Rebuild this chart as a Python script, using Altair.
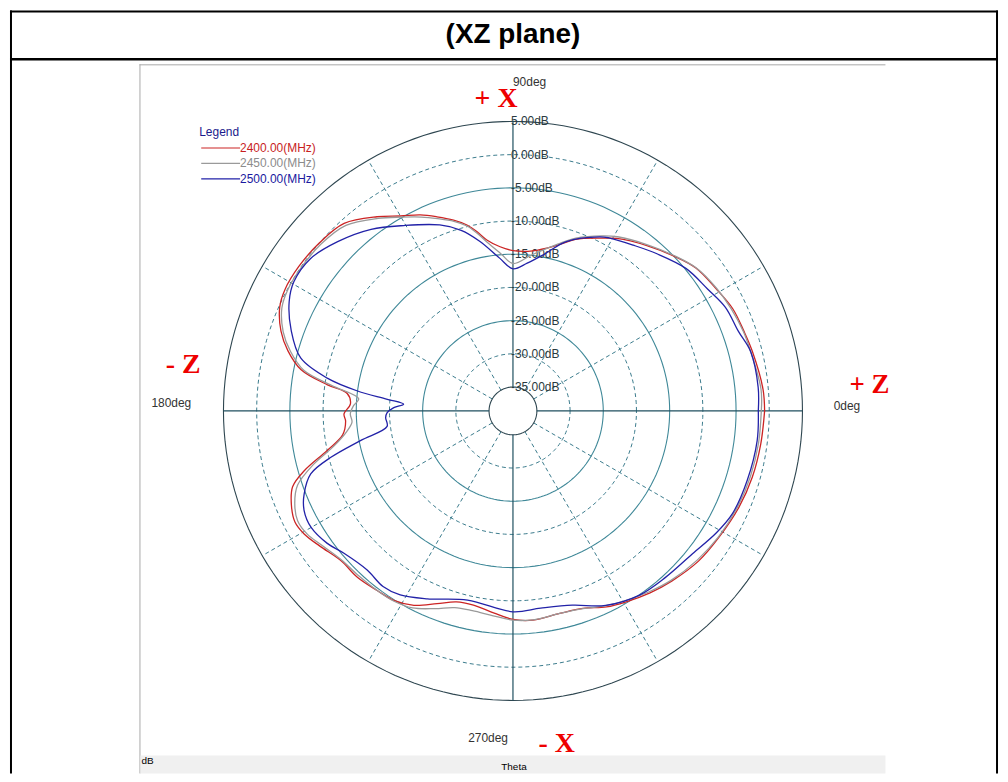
import numpy as np
import pandas as pd
import altair as alt

# ---------------- data ----------------
freqs = ["2400.00(MHz)", "2450.00(MHz)", "2500.00(MHz)"]
freq_colors = ["#cc2424", "#9a9a9a", "#2222a8"]

ang_2400 = [0, 5, 14, 19, 25, 31, 38, 44, 51, 59, 63, 70, 75, 83, 90, 94.5, 98.7, 101.4, 103.9, 107.3,
            111.4, 115.3, 120, 125, 132, 139, 146, 152, 156, 161, 165, 169, 172, 174, 177.5, 181,
            183.5, 188, 192, 196, 199, 203, 207, 210.5, 215, 221, 227, 233, 238, 243, 248.5, 253.5,
            258.5, 264.5, 270, 275.5, 283, 289.5, 295.5, 300.5, 307, 313, 321, 328.5, 337, 344.5,
            352.5, 360]
db_2400 = [-0.7, -0.8, -1.45, -1.8, -2.1, -2.9, -3.65, -5.0, -6.55, -8.3, -9.4, -11.1, -12.75, -14.3,
           -14.45, -13.8, -12.55, -11.05, -9.75, -8.5, -7.2, -5.95, -4.7, -2.9, -0.6, 0.0, 0.3, 0.3,
           -0.15, -1.65, -3.5, -6.1, -10.4, -13.5, -14.1, -13.15, -13.35, -12.7, -10.0, -5.9, -3.5,
           -2.35, -1.75, -2.1, -3.1, -4.25, -4.3, -4.7, -4.9, -5.75, -7.4, -8.6, -8.75, -8.05, -7.2,
           -6.95, -7.3, -7.05, -5.9, -5.2, -4.3, -3.55, -2.65, -2.2, -1.6, -1.2, -0.95, -0.7]

ang_2450 = [0, 5, 14, 19, 25, 31, 38, 44, 51, 59, 63, 70, 75, 83, 90, 94.5, 98.7, 101.4, 104, 107.3,
            111.4, 115.3, 120, 125, 132, 139, 146, 152, 156, 161, 165, 169, 172, 175.5, 178, 181, 184,
            187, 191, 195, 199, 203, 207, 211, 215, 221, 227, 233, 238, 243, 248.5, 253.5, 258.5,
            264.5, 270, 275.5, 283, 289.5, 295.5, 300.5, 307, 313, 321, 328.5, 337, 344.5, 352.5, 360]
db_2450 = [-1.2, -1.1, -1.7, -1.9, -2.3, -2.8, -3.6, -4.9, -6.4, -8.0, -9.0, -10.9, -12.6, -14.9,
           -16.4, -14.8, -12.9, -11.3, -9.9, -8.7, -7.5, -6.3, -4.9, -3.2, -1.0, -0.3, -0.1, -0.1,
           -0.5, -2.0, -3.9, -6.5, -11.0, -15.3, -14.6, -14.1, -14.3, -13.4, -11.2, -7.5, -4.3,
           -2.9, -2.2, -2.5, -3.4, -4.4, -4.6, -4.7, -4.8, -5.3, -6.6, -7.7, -7.9, -7.6, -7.1,
           -7.0, -7.3, -7.0, -6.1, -5.4, -4.5, -3.7, -2.9, -2.3, -1.8, -1.5, -1.3, -1.2]

ang_2500 = [0, 5.5, 14, 19.5, 26, 32, 39.5, 47.5, 54, 61, 63.5, 72.5, 79, 84.5, 90, 95, 101, 106,
            111.5, 120.5, 128, 136, 143, 149.5, 154, 160, 166, 170, 172.7, 174.7, 176.5, 178.4,
            180.8, 183, 187, 191, 194.3, 197.3, 201.7, 205.5, 210, 215.5, 220, 227.5, 233.5, 238.5,
            245.5, 256.5, 270, 278, 287, 295.5, 304.5, 312.5, 321.5, 329, 335, 343.5, 353, 360]
db_2500 = [-1.65, -1.5, -1.7, -2.6, -3.0, -4.0, -4.85, -6.5, -7.75, -8.8, -9.3, -11.85, -14.65,
           -16.25, -17.2, -15.5, -12.6, -10.3, -8.5, -6.2, -3.9, -1.9, -0.45, -0.3, -1.1, -3.05,
           -5.65, -10.2, -15.0, -19.6, -22.1, -20.65, -19.65, -19.4, -19.5, -15.2, -10.3, -6.7,
           -4.75, -3.75, -3.5, -4.25, -5.3, -6.1, -5.7, -6.1, -7.5, -9.3, -8.35, -8.6, -8.0, -6.15,
           -4.95, -4.6, -4.05, -2.9, -2.1, -1.8, -1.55, -1.65]

ring_db = [5, 0, -5, -10, -15, -20, -25, -30, -35]
ring_labels = ["5.00dB", "0.00dB", "-5.00dB", "-10.00dB", "-15.00dB", "-20.00dB", "-25.00dB",
               "-30.00dB", "-35.00dB"]
spoke_angles = [30, 60, 120, 150, 210, 240, 300, 330]
axis_angles = [0, 90, 180, 270]

# ---------------- tables ----------------
rows = []
for f, angs, dbs in zip(freqs, [ang_2400, ang_2450, ang_2500], [db_2400, db_2450, db_2500]):
    for i, (a, d) in enumerate(zip(angs, dbs)):
        rows.append({"freq": f, "theta": a, "db": d, "i": i})
curves = pd.DataFrame(rows)

R_OFF = 38.6  # dB value at the pole
DB_MIN, DB_MAX = -35, 5

grid_theta = np.arange(0, 361, 2)
ring_rows = []
for k, d in enumerate(ring_db):
    if d == DB_MAX or d == DB_MIN:
        kind = "edge"
    elif k % 2 == 1:
        kind = "dashed"
    else:
        kind = "solid"
    for j, t in enumerate(grid_theta):
        ring_rows.append({"ring": d, "kind": kind, "theta": float(t), "db": d, "i": j})
rings = pd.DataFrame(ring_rows)

spokes = pd.DataFrame([{"a": a, "theta": a, "db": d, "i": n}
                       for a in spoke_angles for n, d in enumerate([DB_MIN, DB_MAX])])
axes_df = pd.DataFrame([{"a": a, "theta": a, "db": d, "i": n}
                        for a in axis_angles for n, d in enumerate([DB_MIN, DB_MAX])])
labels_df = pd.DataFrame({"db": ring_db, "label": ring_labels})

# ---------------- scales ----------------
W, H = 992, 766
K = 6.6667
CX, CY = 505, 402
xs = alt.Scale(domain=[-CX / K, (W - CX) / K], nice=False, zero=False)
ys = alt.Scale(domain=[-(H - CY) / K, CY / K], nice=False, zero=False)


def polar(ch):
    return ch.transform_calculate(
        r=f"datum.db + {R_OFF}"
    ).transform_calculate(
        px="datum.r * cos(datum.theta * PI / 180)",
        py="datum.r * sin(datum.theta * PI / 180)",
    )


X = alt.X("px:Q", scale=xs, axis=None)
Y = alt.Y("py:Q", scale=ys, axis=None)

ring_edge = polar(alt.Chart(rings)).transform_filter("datum.kind == 'edge'").mark_line(
    stroke="#2e4650", strokeWidth=1.1).encode(x=X, y=Y, detail="ring:N", order="i:Q")
ring_solid = polar(alt.Chart(rings)).transform_filter("datum.kind == 'solid'").mark_line(
    stroke="#3f8898", strokeWidth=1.1).encode(x=X, y=Y, detail="ring:N", order="i:Q")
ring_dash = polar(alt.Chart(rings)).transform_filter("datum.kind == 'dashed'").mark_line(
    stroke="#3a7b8c", strokeWidth=1, strokeDash=[4, 3]).encode(x=X, y=Y, detail="ring:N", order="i:Q")
spoke_layer = polar(alt.Chart(spokes)).mark_line(
    stroke="#3a7b8c", strokeWidth=1, strokeDash=[4, 3]).encode(x=X, y=Y, detail="a:N", order="i:Q")
axis_layer = polar(alt.Chart(axes_df)).mark_line(
    stroke="#1f4f5f", strokeWidth=1.2).encode(x=X, y=Y, detail="a:N", order="i:Q")

ring_text = alt.Chart(labels_df).transform_calculate(
    px="0", py=f"datum.db + {R_OFF}"
).mark_text(align="left", baseline="middle", dx=-2, font="Liberation Sans", fontSize=12,
            color="#2a3a40").encode(x=X, y=Y, text="label:N")

curve_layer = polar(alt.Chart(curves)).mark_line(
    interpolate="catmull-rom", strokeWidth=1.3).encode(
    x=X, y=Y,
    color=alt.Color("freq:N", scale=alt.Scale(domain=freqs, range=freq_colors), legend=None),
    order="i:Q",
)

one = pd.DataFrame({"v": [0]})


def rule(x, x2, y, y2, color, w):
    return alt.Chart(one).mark_rule(color=color, strokeWidth=w).encode(
        x=alt.value(x), x2=alt.value(x2), y=alt.value(y), y2=alt.value(y2))


def text(t, x, y, size, color="#222222", font="Liberation Sans", weight="normal",
         align="left", baseline="middle"):
    return alt.Chart(one).mark_text(text=t, font=font, fontSize=size, fontWeight=weight,
                                    color=color, align=align, baseline=baseline).encode(
        x=alt.value(x), y=alt.value(y))


frame = [
    rule(0, W, 1, 1, "#000000", 2),
    rule(1, 1, 0, H, "#000000", 2),
    rule(W - 1, W - 1, 0, H, "#000000", 2),
    rule(0, W, 49, 49, "#000000", 2.5),
    rule(130, 879, 54.5, 54.5, "#a8a8a8", 1),
    rule(130.5, 130.5, 54, H, "#a8a8a8", 1),
    alt.Chart(one).mark_rect(color="#f0f0f0").encode(
        x=alt.value(131), x2=alt.value(879), y=alt.value(748), y2=alt.value(H)),
    text("dB", 132, 754, 10, color="#000000"),
    text("Theta", 506, 760, 10, color="#000000", align="center"),
    text("(XZ plane)", 505, 25, 28, color="#000000", weight="bold", align="center"),
]

angle_text = [
    text("90deg", 505, 72, 12, color="#333333"),
    text("180deg", 142, 394, 12, color="#333333"),
    text("0deg", 827, 397, 12, color="#333333"),
    text("270deg", 460, 730, 12, color="#333333"),
]

red = "#ee0000"
axis_names = [
    text("+ X", 488, 97, 28, color=red, font="Liberation Serif", weight="bold",
         align="center", baseline="alphabetic"),
    text("- Z", 174, 364, 28, color=red, font="Liberation Serif", weight="bold",
         align="center", baseline="alphabetic"),
    text("+ Z", 863, 384, 27, color=red, font="Liberation Serif", weight="bold",
         align="center", baseline="alphabetic"),
    text("- X", 549, 744, 28, color=red, font="Liberation Serif", weight="bold",
         align="center", baseline="alphabetic"),
]

legend_colors_text = ["#c81e1e", "#8c8c8c", "#1a1aa0"]
legend = [text("Legend", 190, 122, 12, color="#1a1a8c")]
for k, (f, c, ct) in enumerate(zip(freqs, freq_colors, legend_colors_text)):
    yy = 138 + k * 15.5
    legend.append(rule(192, 231, yy, yy, c, 1.2))
    legend.append(text(f, 231, yy, 12, color=ct))

chart = alt.layer(
    *frame, ring_solid, ring_dash, spoke_layer, ring_edge, axis_layer, ring_text,
    curve_layer, *angle_text, *axis_names, *legend
).properties(width=W, height=H, padding=0, background="white").configure_view(stroke=None)

chart.save("out.html", embed_options={"renderer": "svg", "actions": False})
